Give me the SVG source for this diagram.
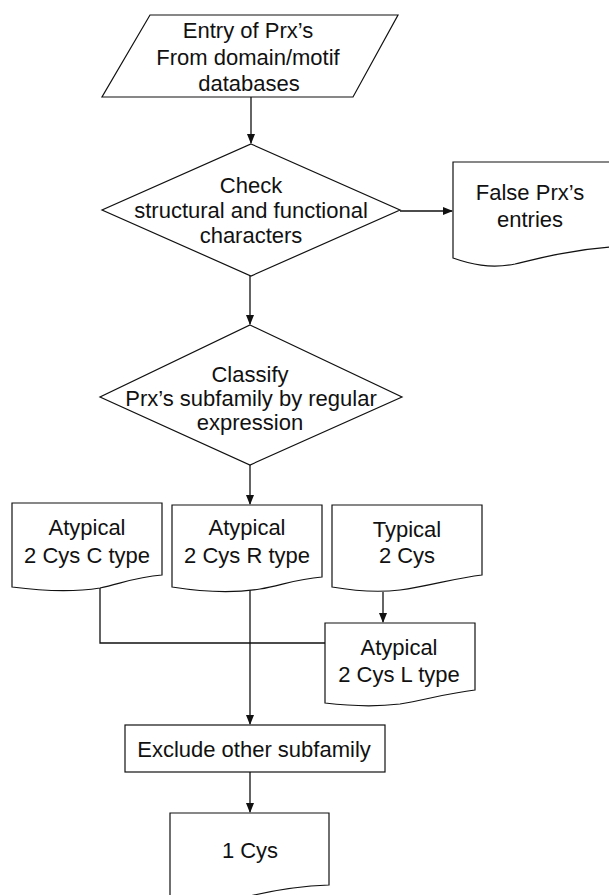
<svg xmlns="http://www.w3.org/2000/svg" width="609" height="895" viewBox="0 0 609 895">
<style>
.s{fill:#fff;stroke:#111;stroke-width:1.2}
.c{fill:none;stroke:#111;stroke-width:1.3}
text{font-family:"Liberation Sans",Arial,sans-serif;font-size:22px;fill:#111;text-anchor:middle}
</style>
<defs>
<marker id="ah" markerWidth="10" markerHeight="10" refX="9" refY="5" orient="auto" markerUnits="userSpaceOnUse">
<path d="M0,1 L10,5 L0,9 Z" fill="#111"/>
</marker>
</defs>
<rect width="609" height="895" fill="#fff"/>
<g id="connectors">
<path class="c" d="M251,97 V143" marker-end="url(#ah)"/>
<path class="c" d="M400,211 H452" marker-end="url(#ah)"/>
<path class="c" d="M250,276 V324" marker-end="url(#ah)"/>
<path class="c" d="M250,465 V504" marker-end="url(#ah)"/>
<path class="c" d="M100,582 V643 H325"/>
<path class="c" d="M250,590 V724" marker-end="url(#ah)"/>
<path class="c" d="M383,592 V622" marker-end="url(#ah)"/>
<path class="c" d="M250,772 V812" marker-end="url(#ah)"/>
</g>
<g id="entry">
<polygon class="s" points="150,15 398,15 353,97 102,97"/>
<text x="248" y="38">Entry of Prx’s</text>
<text x="248" y="65">From domain/motif</text>
<text x="249" y="91">databases</text>
</g>
<g id="check">
<polygon class="s" points="251,144 400,210 251,276 102,210"/>
<text x="251" y="193">Check</text>
<text x="251" y="218">structural and functional</text>
<text x="251" y="243">characters</text>
</g>
<g id="false">
<path class="s" d="M453,162 H612 V247 C570,250 540,258 515,264 C490,269 470,264 453,258 Z"/>
<text x="530" y="200">False Prx’s</text>
<text x="530" y="227">entries</text>
</g>
<g id="classify">
<polygon class="s" points="250,325 402,397 250,465 100,397"/>
<text x="250" y="382">Classify</text>
<text x="251" y="406">Prx’s subfamily by regular</text>
<text x="250" y="430">expression</text>
</g>
<g id="c-type">
<path class="s" d="M12,503 H162 V575 C135,577 120,584 100,588 C75,592 50,592 12,587 Z"/>
<text x="87" y="535">Atypical</text>
<text x="87" y="563">2 Cys C type</text>
</g>
<g id="r-type">
<path class="s" d="M172,505 H322 V577 C295,579 280,586 260,589 C235,593 210,593 172,587 Z"/>
<text x="247" y="535">Atypical</text>
<text x="247" y="563">2 Cys R type</text>
</g>
<g id="typical">
<path class="s" d="M332,505 H482 V575 C455,578 430,586 400,590 C375,593 355,591 332,587 Z"/>
<text x="407" y="537">Typical</text>
<text x="407" y="563">2 Cys</text>
</g>
<g id="l-type">
<path class="s" d="M325,623 H475 V690 C448,693 425,700 400,704 C375,707 350,706 325,703 Z"/>
<text x="399" y="655">Atypical</text>
<text x="399" y="682">2 Cys L type</text>
</g>
<g id="exclude">
<rect class="s" x="125" y="725" width="260" height="47"/>
<text x="254" y="757">Exclude other subfamily</text>
</g>
<g id="one-cys">
<path class="s" d="M170,813 H329 V885 C300,886 275,890 250,896 L170,900 Z"/>
<text x="250" y="858">1 Cys</text>
</g>
</svg>
